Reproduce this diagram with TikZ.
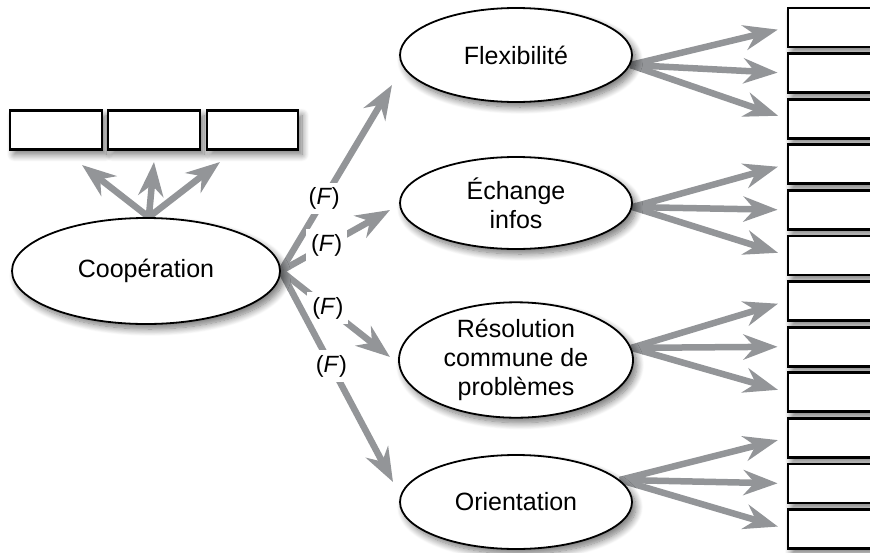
\documentclass[tikz,border=0pt]{standalone}
\usepackage{fontspec}
\setmainfont{Liberation Sans}
\usetikzlibrary{arrows.meta,shapes.geometric,shadows.blur}
\definecolor{arrowgray}{HTML}{939598}
\pgfdeclarelayer{bg}
\pgfsetlayers{bg,main}
\begin{document}
\begin{tikzpicture}[x=1pt,y=-1pt,
  arr/.style={draw=arrowgray, line width=6.5pt, -{Stealth[length=34pt,width=25pt,inset=11pt,fill=arrowgray]}},
  softshadow/.style={blur shadow={shadow xshift=4pt, shadow yshift=-5pt, shadow blur radius=7pt, shadow blur steps=12, shadow opacity=55}},
  ell/.style={ellipse, draw=black, line width=1.8pt, fill=white, inner sep=0pt, align=center,
    font=\fontsize{25}{29}\selectfont, softshadow},
  box/.style={rectangle, draw=black, line width=2.8pt, fill=white, inner sep=0pt,
    minimum height=39pt, softshadow},
  lab/.style={fill=white, inner sep=5pt, font=\fontsize{23.5}{23.5}\selectfont}
]
\useasboundingbox (0,0) rectangle (870,552);

% left boxes
\node[box, minimum width=92pt] (l1) at (56,130) {};
\node[box, minimum width=92pt] (l2) at (154,130) {};
\node[box, minimum width=91pt] (l3) at (252.5,130) {};

% right boxes
\foreach \i in {0,...,11} {
  \node[box, minimum width=112pt] (r\i) at (844,{27.5+45.6*\i}) {};
}

% ellipses
\node[ell, minimum width=268pt, minimum height=106pt] (coop) at (146,271) {Coopération};
\node[ell, minimum width=232pt, minimum height=94pt] (flex) at (516,55) {Flexibilité};
\node[ell, minimum width=232pt, minimum height=92pt] (ech) at (516,203) {Échange\\infos};
\node[ell, minimum width=234pt, minimum height=104pt] (reso) at (516,360) {Résolution\\commune de\\problèmes};
\node[ell, minimum width=232pt, minimum height=94pt] (orient) at (516,502) {Orientation};

% tip coordinates
\coordinate (t1) at (82,165);
\coordinate (t2) at (154,162);
\coordinate (t3) at (220,162);
\coordinate (tf) at (392,85);
\coordinate (te) at (390,210);
\coordinate (tr) at (390,357);
\coordinate (to) at (393,482);

\begin{pgfonlayer}{bg}
  \draw[arr] (coop.87) -- (t1);
  \draw[arr] (coop.87) -- (t2);
  \draw[arr] (coop.87) -- (t3);

  \draw[arr] (coop.east) -- node[lab, pos=0.39] (f1) {(\textit{F})} (tf);
  \draw[arr] (coop.east) -- node[lab, pos=0.42] (f2) {(\textit{F})} (te);
  \draw[arr] (coop.east) -- node[lab, pos=0.43] (f3) {(\textit{F})} (tr);
  \draw[arr] (coop.east) -- node[lab, pos=0.45] (f4) {(\textit{F})} (to);

  \foreach \j in {0,1,2} \draw[arr, shorten >=9pt] (flex.-5) -- (r\j.west);
  \foreach \j in {3,4,5} \draw[arr, shorten >=9pt] (ech.-2) -- (r\j.west);
  \foreach \j in {6,7,8} \draw[arr, shorten >=9pt] (reso.6) -- (r\j.west);
  \foreach \j in {9,10,11} \draw[arr, shorten >=9pt] (orient.12) -- (r\j.west);
\end{pgfonlayer}
\end{tikzpicture}
\end{document}
